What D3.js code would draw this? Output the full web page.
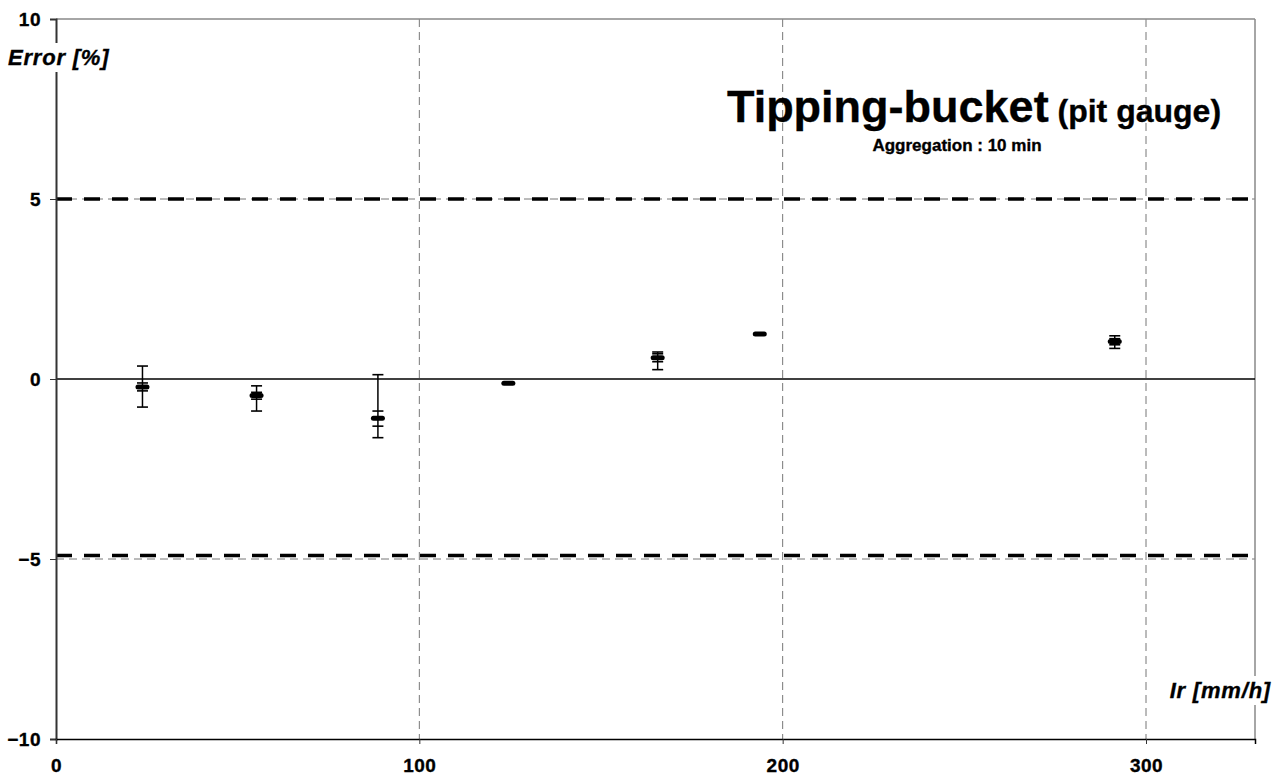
<!DOCTYPE html>
<html>
<head>
<meta charset="utf-8">
<script src="https://cdn.jsdelivr.net/npm/d3@7"></script>
<style>
  body { margin: 0; background: #fff; }
  svg { display: block; }
</style>
</head>
<body>
<svg id="chart" width="1282" height="782"></svg>
<script>
// Rainfall intensity classes [mm/h]
const intensity = [23.8, 55.2, 88.6, 124.5, 165.6, 193.7, 291.4];
// Mean relative error [%]
const meanError = [-0.22, -0.46, -1.09, -0.12, 0.59, 1.25, 1.04];
// Outer range (min / max) [%]
const rangeLow  = [-0.78, -0.89, -1.63, -0.14, 0.26, 1.25, 0.85];
const rangeHigh = [ 0.36, -0.19,  0.12, -0.10, 0.75, 1.25, 1.20];
// Inner band (mean ± std) [%]
const bandLow  = [-0.33, -0.56, -1.31, -0.12, 0.48, 1.25, 0.95];
const bandHigh = [-0.11, -0.37, -0.89, -0.12, 0.70, 1.25, 1.12];

const xTicks = [0, 100, 200, 300];
const yTicks = [-10, -5, 0, 5, 10];
const tolerance = [5, -4.9];

const FONT = "'Liberation Sans', Arial, sans-serif";
const svg = d3.select("#chart");
const x = d3.scaleLinear().domain([0, 330]).range([56, 1255]);
const y = d3.scaleLinear().domain([-10, 10]).range([739, 19]);

function bold(sel, size, italic, spacing) {
  return sel.style("font-family", FONT).style("font-weight", "700")
    .style("font-size", size + "px").style("font-style", italic ? "italic" : "normal")
    .style("letter-spacing", (spacing || 0) + "px")
    .attr("stroke", "#000").attr("stroke-width", 0.35);
}

// grid
svg.append("g").selectAll("line").data(xTicks.filter(d => d > 0)).join("line")
  .attr("x1", d => x(d)).attr("x2", d => x(d)).attr("y1", y(10)).attr("y2", y(-10))
  .attr("stroke", "#777").attr("stroke-width", 1).attr("stroke-dasharray", "8,5");
svg.append("g").selectAll("line").data([-5, 5]).join("line")
  .attr("x1", x(0)).attr("x2", x(330)).attr("y1", d => y(d)).attr("y2", d => y(d))
  .attr("stroke", "#777").attr("stroke-width", 1).attr("stroke-dasharray", "8,5");

// frame (top / right)
svg.append("line").attr("x1", x(0)).attr("x2", x(330)).attr("y1", y(10)).attr("y2", y(10))
  .attr("stroke", "#888").attr("stroke-width", 1.5);
svg.append("line").attr("x1", x(330)).attr("x2", x(330)).attr("y1", y(10)).attr("y2", y(-10))
  .attr("stroke", "#888").attr("stroke-width", 1.5);

// tolerance limits
svg.append("g").selectAll("line").data(tolerance).join("line")
  .attr("x1", x(0)).attr("x2", x(330)).attr("y1", d => y(d)).attr("y2", d => y(d))
  .attr("stroke", "#000").attr("stroke-width", 3.5).attr("stroke-dasharray", "16,12");

// zero line
svg.append("line").attr("x1", x(0)).attr("x2", x(330)).attr("y1", y(0)).attr("y2", y(0))
  .attr("stroke", "#000").attr("stroke-width", 1.6);

// axes
const yAxis = d3.axisLeft(y).tickValues(yTicks).tickSize(6).tickFormat(d3.format("d"));
const gy = svg.append("g").attr("transform", `translate(${x(0)},0)`).call(yAxis);
gy.select(".domain").attr("stroke", "#333").attr("stroke-width", 2);
gy.selectAll(".tick line").attr("stroke", "#333");
bold(gy.selectAll(".tick text"), 19, false, 0.5).attr("fill", "#000").attr("x", -15);

const xAxis = d3.axisBottom(x).tickValues(xTicks).tickSize(5).tickFormat(d3.format("d"));
const gx = svg.append("g").attr("transform", `translate(0,${y(-10)})`).call(xAxis);
gx.select(".domain").attr("stroke", "#000").attr("stroke-width", 1.5);
gx.selectAll(".tick line").attr("stroke", "#333");
bold(gx.selectAll(".tick text"), 19, false, 0.5).attr("fill", "#000").attr("y", 20);

// axis titles with white backing
function boxedLabel(tx, ty, txt, anchor) {
  const g = svg.append("g");
  const t = bold(g.append("text"), 22, true, 0.8).attr("x", tx).attr("y", ty)
    .attr("text-anchor", anchor).text(txt);
  const b = t.node().getBBox();
  g.insert("rect", "text").attr("x", b.x - 2).attr("y", b.y - 2)
    .attr("width", b.width + 4).attr("height", b.height + 4).attr("fill", "#fff");
}
boxedLabel(8, 65, "Error [%]", "start");
boxedLabel(1271, 698, "Ir [mm/h]", "end");

// title
const title = bold(svg.append("text"), 45).attr("x", 974).attr("y", 122).attr("text-anchor", "middle");
title.append("tspan").text("Tipping-bucket");
title.append("tspan").style("font-size", "32px").text(" (pit gauge)");
bold(svg.append("text"), 17).attr("x", 957).attr("y", 151).attr("text-anchor", "middle")
  .text("Aggregation : 10 min");

// error bars
const pts = intensity.map((d, i) => ({
  x: d, m: meanError[i], lo: rangeLow[i], hi: rangeHigh[i], bl: bandLow[i], bh: bandHigh[i]
}));
const g = svg.append("g").attr("stroke", "#000");
pts.forEach(p => {
  const cx = x(p.x);
  if (y(p.lo) - y(p.hi) > 2) {
    g.append("line").attr("x1", cx).attr("x2", cx).attr("y1", y(p.hi)).attr("y2", y(p.lo)).attr("stroke-width", 1.5);
    [p.lo, p.hi].forEach(v => g.append("line").attr("x1", cx - 5.5).attr("x2", cx + 5.5)
      .attr("y1", y(v)).attr("y2", y(v)).attr("stroke-width", 1.6));
  }
  if (y(p.bl) - y(p.bh) > 2) {
    [p.bl, p.bh].forEach(v => g.append("line").attr("x1", cx - 5.5).attr("x2", cx + 5.5)
      .attr("y1", y(v)).attr("y2", y(v)).attr("stroke-width", 1.6));
  }
  g.append("rect").attr("x", cx - 7).attr("y", y(p.m) - 2.5).attr("width", 14).attr("height", 5)
    .attr("rx", 2.5).attr("fill", "#000").attr("stroke", "none");
});
</script>
</body>
</html>
